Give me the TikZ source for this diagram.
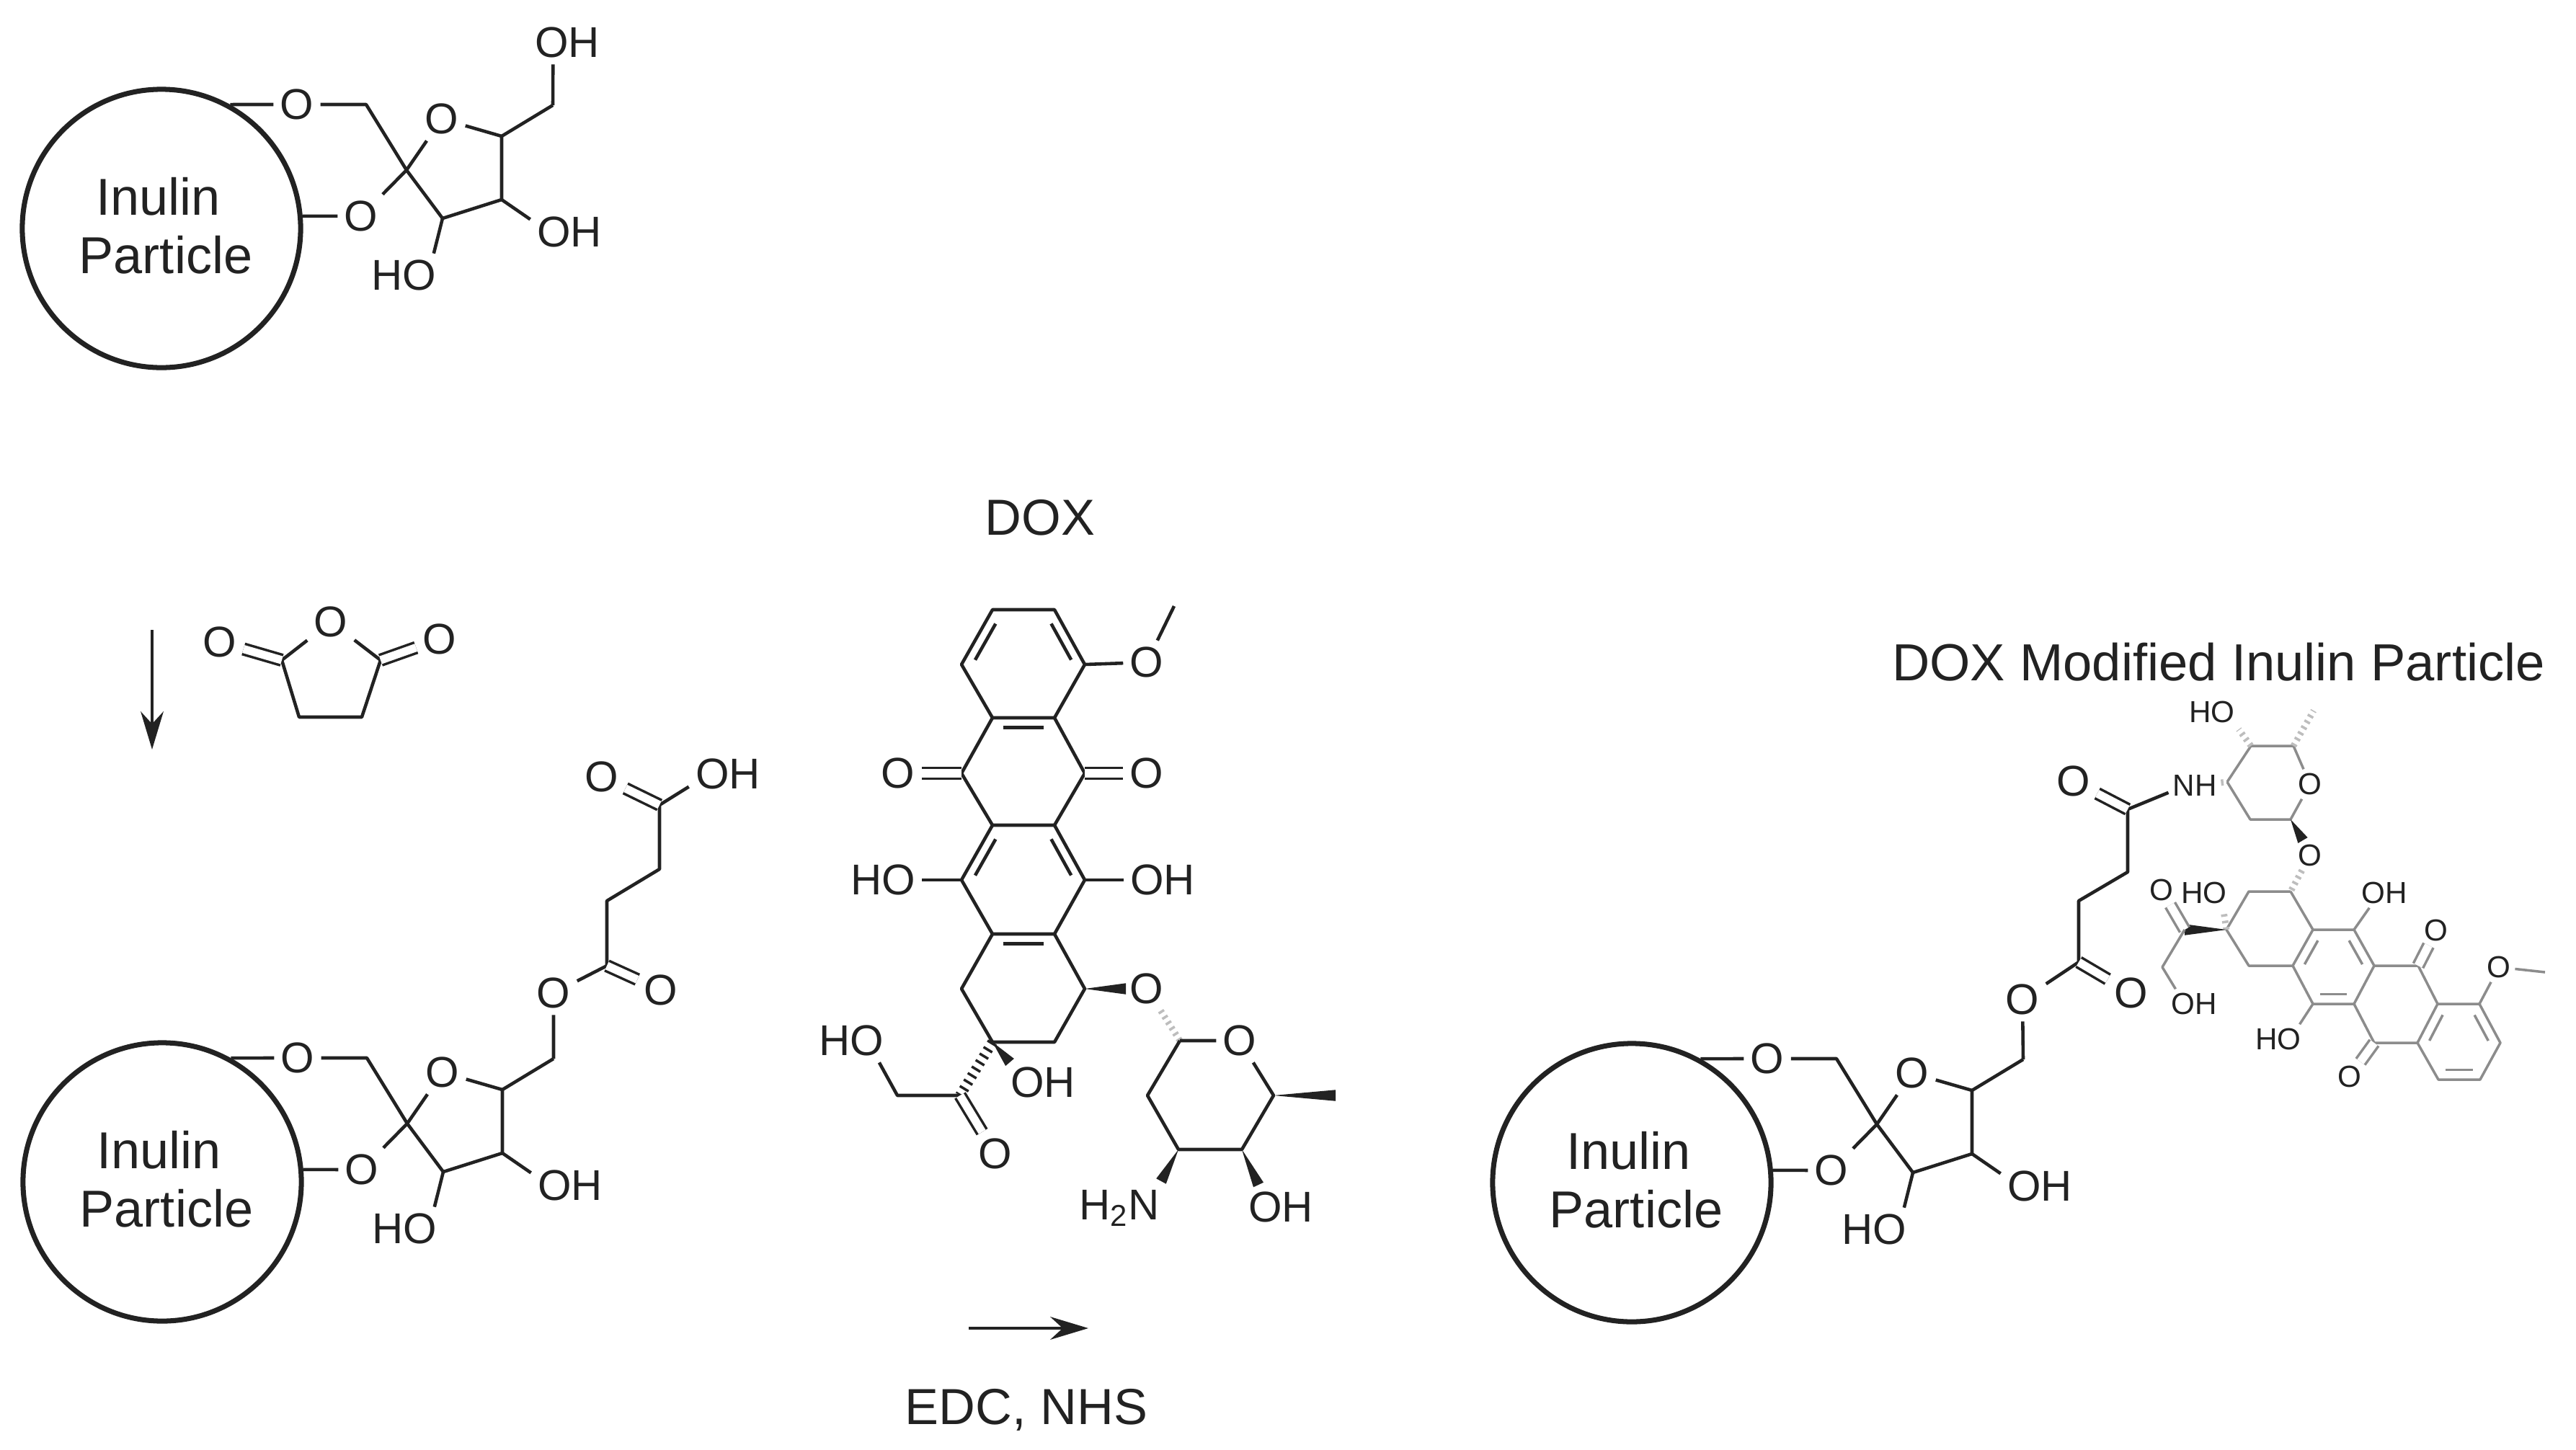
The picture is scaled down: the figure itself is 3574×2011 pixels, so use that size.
\documentclass[tikz,border=0pt]{standalone}
\usepackage{fontspec}
\setmainfont{Liberation Sans}
\usetikzlibrary{arrows.meta,calc}
\definecolor{ink}{HTML}{222222}
\definecolor{faint}{HTML}{8C8C8C}
\definecolor{pale}{HTML}{BDBDBD}
\tikzset{
	bond/.style = {draw=ink, line width=1.3pt, line join=round},
	thin bond/.style = {draw=faint, line width=1pt, line join=round},
	dbl/.style = {double=white, double distance=3.2pt, line width=1pt},
	hash/.style = {line width=4pt, dash pattern=on 1pt off 2pt},
	pale hash/.style = {draw=pale, line width=2.5pt, dash pattern=on 1pt off 1.6pt},
	ringin/.style = {to path={($(\tikztostart)!.17!(\tikztotarget)!#1!-90:(\tikztotarget)$) -- ($(\tikztotarget)!.17!(\tikztostart)!#1!90:(\tikztostart)$)}},
	ringin/.default = 3.8pt,
	wedge/.style = {to path={-- ($(\tikztotarget)!#1!90:(\tikztostart)$) -- ($(\tikztotarget)!#1!-90:(\tikztostart)$) -- cycle}},
	wedge/.default = 2.2pt,
	atom/.style = {text=ink, inner sep=2.5pt, text depth=0pt, font=\fontsize{17}{20}\selectfont},
	small atom/.style = {text=ink, inner sep=1.5pt, text depth=0pt, font=\fontsize{12}{14}\selectfont},
	heading/.style = {text=ink, text depth=0pt, font=\fontsize{20}{24}\selectfont},
	particle/.style = {draw=ink, circle, line width=2pt, minimum size=3.86cm, inner sep=0pt},
	particle text/.style = {align=center, text=ink, font=\fontsize{20.5}{23}\selectfont},
	inulinunit/.pic = {
		\node[particle] (-P) at (224,317) {};
		\node[particle text] (-T) at (230,313) {Inulin\hspace*{0.21cm}\\Particle};
		\node[atom] (-O1) at (412,145) {O};
		\node[atom] (-O2) at (501,300) {O};
		\node[atom] (-O3) at (613,165) {O};
		\node[atom] (-OH1) at (790,322) {OH};
		\node[atom] (-OH2) at (560,382) {HO};
		\coordinate (-C1) at (508,145);
		\coordinate (-C2) at (564,236);
		\coordinate (-C3) at (614,303);
		\coordinate (-C4) at (696,277);
		\coordinate (-C5) at (696,189);
		\coordinate (-C6) at (767,146);
		\draw[bond] (-P.61) -- (-O1) (-O1) -- (-C1) -- (-C2) -- (-C3) -- (-C4) -- (-C5) -- (-C6);
		\draw[bond] (-P.5) -- (-O2) (-O2) -- (-C2) -- (-O3) (-O3) -- (-C5);
		\draw[bond] (-C4) -- (-OH1.162) (-C3) -- (-OH2.36);
	}
}

\begin{document}
\begin{tikzpicture}[x=0.01cm, y=-0.01cm, >={Stealth[length=15pt,width=9pt]}]
	\useasboundingbox (0,0) rectangle (3574,2011);

	% starting particle
	\pic (top) at (0,0) {inulinunit};
	\node[atom] (topOH) at (787,59) {OH};
	\draw[bond] (top-C6) -- (topOH.237);

	% succinic anhydride step
	\coordinate (downA) at (211,874);
	\coordinate (downB) at (211,1040);
	\draw[->, bond] (downA) -- (downB);
	\node[atom] (anO) at (459,863) {O};
	\node[atom] (anOl) at (305,891) {O};
	\node[atom] (anOr) at (610,887) {O};
	\coordinate (anC1) at (391,916);
	\coordinate (anC2) at (528,916);
	\coordinate (anC3) at (415,995);
	\coordinate (anC4) at (502,995);
	\draw[bond] (anO) -- (anC2) -- (anC4) -- (anC3) -- (anC1) -- (anO);
	\draw[bond, dbl] (anC1) -- (anOl);
	\draw[bond, dbl] (anC2) -- (anOr);

	% particle with acid arm
	\pic (bot) at (1,1323) {inulinunit};
	\node[atom] (botO1) at (768,1378) {O};
	\node[atom] (botO2) at (917,1374) {O};
	\node[atom] (botO3) at (835,1078) {O};
	\node[atom] (botOH) at (1010,1074) {OH};
	\coordinate (botC1) at (842,1340);
	\coordinate (botC2) at (842,1250);
	\coordinate (botC3) at (915,1206);
	\coordinate (botC4) at (915,1117);
	\draw[bond] (bot-C6) -- (botO1) (botO1) -- (botC1) -- (botC2) -- (botC3) -- (botC4) -- (botOH.198);
	\draw[bond, dbl] (botC1) -- (botO2);
	\draw[bond, dbl] (botC4) -- (botO3);

	% free drug
	\node[heading] (dox) at (1443,718) {DOX};
	\foreach \n/\x/\y in {a1/1377/846, a2/1463/846, a3/1505/922, a4/1463/996, a5/1377/996, a6/1334/922,
		b1/1505/1073, b2/1463/1145, b3/1377/1145, b4/1334/1073,
		c1/1505/1221, c2/1463/1296, c3/1377/1296, c4/1334/1221,
		d1/1505/1372, d2/1463/1446, d3/1377/1446, d4/1334/1372,
		x1/1332/1520, x2/1245/1520, me/1629/841,
		e1/1637/1444, e3/1767/1520, e4/1723/1595, e5/1635/1595, e6/1592/1520,
		w1/1562/1372, w2/1401/1474, w3/1853/1520, w4/1746/1644, w5/1611/1639}
		\coordinate (\n) at (\x,\y);
	\node[atom] (doxO1) at (1591,919) {O};
	\node[atom] (doxO2) at (1591,1073) {O};
	\node[atom] (doxO3) at (1246,1073) {O};
	\node[atom] (doxO4) at (1591,1372) {O};
	\node[atom] (doxO5) at (1381,1601) {O};
	\node[atom] (doxO6) at (1720,1444) {O};
	\node[atom] (doxOH1) at (1613,1221) {OH};
	\node[atom] (doxOH2) at (1225,1221) {HO};
	\node[atom] (doxOH3) at (1447,1502) {OH};
	\node[atom] (doxOH4) at (1181,1444) {HO};
	\node[atom] (doxOH5) at (1777,1675) {OH};
	\node[atom] (doxN) at (1553,1672) {H\textsubscript{2}N};
	\draw[bond] (a1) -- (a2) -- (a3) -- (a4) -- (a5) -- (a6) -- cycle;
	\draw[bond] (a5) -- (b4) -- (b3) -- (b2) -- (b1) -- (a4);
	\draw[bond] (b3) -- (c4) -- (c3) -- (c2) -- (c1) -- (b2);
	\draw[bond] (c3) -- (d4) -- (d3) -- (d2) -- (d1) -- (c2);
	\draw[bond, ringin] (a2) to (a3);
	\draw[bond, ringin] (a6) to (a1);
	\draw[bond, ringin] (a5) to (a4);
	\draw[bond, ringin] (b2) to (c1);
	\draw[bond, ringin] (c4) to (b3);
	\draw[bond, ringin] (c3) to (c2);
	\draw[bond] (a3) -- (doxO1) (doxO1) -- (me);
	\draw[bond, dbl] (b1) -- (doxO2);
	\draw[bond, dbl] (b4) -- (doxO3);
	\draw[bond] (c1) -- (doxOH1) (c4) -- (doxOH2);
	\fill[ink, wedge] (d1) to (w1);
	\fill[ink, wedge] (d3) to (w2);
	\draw[bond, hash] (d3) -- (x1);
	\draw[bond] (x1) -- (x2) -- (doxOH4.322);
	\draw[bond, dbl] (x1) -- (doxO5);
	\draw[bond, pale hash] (doxO4) -- (e1);
	\draw[bond] (e1) -- (doxO6) (doxO6) -- (e3) -- (e4) -- (e5) -- (e6) -- (e1);
	\fill[ink, wedge] (e3) to (w3);
	\fill[ink, wedge] (e4) to (w4);
	\fill[ink, wedge] (e5) to (w5);

	% coupling step
	\coordinate (rightA) at (1344,1843);
	\coordinate (rightB) at (1510,1843);
	\draw[->, bond] (rightA) -- (rightB);
	\node[heading] (edc) at (1424,1952) {EDC, NHS};

	% product
	\pic (pro) at (2040,1324) {inulinunit};
	\node[heading, font=\fontsize{20.6}{24}\selectfont] (product) at (3078,918) {DOX Modified Inulin Particle};
	\node[atom] (proO1) at (2806,1387) {O};
	\node[atom] (proO2) at (2957,1378) {O};
	\node[atom] (proO3) at (2877,1084) {O};
	\node[small atom] (proNH) at (3045,1090) {NH};
	\foreach \n/\x/\y in {k1/2884/1335, k2/2884/1250, k3/2952/1210, k4/2952/1123,
		f1/3090/1085, f2/3123/1035, f3/3182/1035, f5/3178/1137, f6/3122/1137,
		v1/3106/1012, v2/3210/986, v3/3195/1166,
		g1/3178/1237, g2/3120/1237, g3/3089/1290, g4/3120/1340, g5/3181/1340, g6/3209/1290,
		g7/3266/1290, g8/3294/1340, g9/3266/1393, g10/3209/1393,
		h1/3355/1340, h2/3382/1393, h3/3354/1447, i1/3294/1447,
		j1/3440/1393, j2/3469/1447, j3/3441/1498, j4/3383/1498,
		m1/3031/1290, m2/3000/1342, m3/3085/1264, me2/3531/1349}
		\coordinate (\n) at (\x,\y);
	\node[small atom] (proO4) at (3205,1088) {O};
	\node[small atom] (proO5) at (3205,1187) {O};
	\node[small atom] (proO6) at (2999,1235) {O};
	\node[small atom] (proO7) at (3380,1291) {O};
	\node[small atom] (proO8) at (3260,1494) {O};
	\node[small atom] (proO9) at (3467,1342) {O};
	\node[small atom] (proOH1) at (3069,988) {HO};
	\node[small atom] (proOH2) at (3058,1239) {HO};
	\node[small atom] (proOH3) at (3308,1239) {OH};
	\node[small atom] (proOH4) at (3161,1442) {HO};
	\node[small atom] (proOH5) at (3044,1393) {OH};
	\draw[bond] (pro-C6) -- (proO1) (proO1) -- (k1) -- (k2) -- (k3) -- (k4) -- (proNH.195);
	\draw[bond, dbl] (k1) -- (proO2);
	\draw[bond, dbl] (k4) -- (proO3);
	\draw[thin bond, pale hash] (proNH) -- (f1);
	\draw[thin bond] (f1) -- (f2) -- (f3) -- (proO4) (proO4) -- (f5) -- (f6) -- (f1);
	\draw[thin bond, pale hash] (f2) -- (v1);
	\draw[thin bond, pale hash] (f3) -- (v2);
	\fill[ink, wedge] (f5) to (v3);
	\draw[thin bond, pale hash] (proO5) -- (g1);
	\draw[thin bond] (g1) -- (g2) -- (g3) -- (g4) -- (g5) -- (g6) -- (g1);
	\draw[thin bond] (g6) -- (g7) -- (g8) -- (g9) -- (g10) -- (g5);
	\draw[thin bond] (g8) -- (h1) -- (h2) -- (h3) -- (i1) -- (g9);
	\draw[thin bond] (h2) -- (j1) -- (j2) -- (j3) -- (j4) -- (h3);
	\draw[thin bond, ringin] (g5) to (g6);
	\draw[thin bond, ringin] (g7) to (g8);
	\draw[thin bond, ringin] (g9) to (g10);
	\draw[thin bond, ringin] (j1) to (j2);
	\draw[thin bond, ringin] (j3) to (j4);
	\draw[thin bond, ringin] (h3) to (h2);
	\draw[thin bond, dbl] (h1) -- (proO7);
	\draw[thin bond, dbl] (i1) -- (proO8);
	\draw[thin bond] (j1) -- (proO9) (proO9) -- (me2);
	\draw[thin bond] (g7) -- (proOH3.225) (g10) -- (proOH4.35);
	\draw[thin bond, pale hash] (g3) -- (m3);
	\fill[ink, wedge] (g3) to (m1);
	\draw[thin bond, dbl] (m1) -- (proO6);
	\draw[thin bond] (m1) -- (m2) -- (proOH5.141);
\end{tikzpicture}
\end{document}
